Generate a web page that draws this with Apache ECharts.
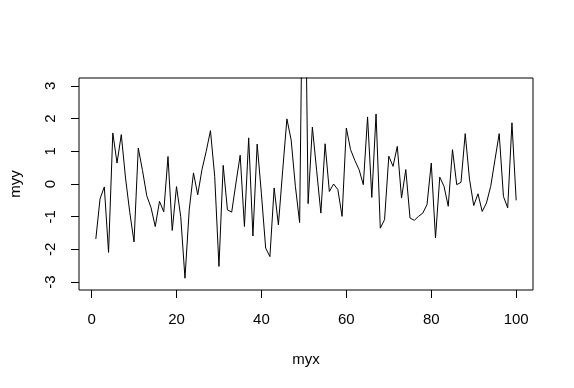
<!DOCTYPE html>
<html>
<head>
<meta charset="utf-8">
<script src="https://cdn.jsdelivr.net/npm/echarts@6/dist/echarts.min.js"></script>
<style>
html,body{margin:0;padding:0;background:#fff;}
#c{width:574px;height:388px;}
</style>
</head>
<body>
<div id="c"></div>
<script>
var myx = [1,2,3,4,5,6,7,8,9,10,11,12,13,14,15,16,17,18,19,20,21,22,23,24,25,26,27,28,29,30,31,32,33,34,35,36,37,38,39,40,41,42,43,44,45,46,47,48,49,50,51,52,53,54,55,56,57,58,59,60,61,62,63,64,65,66,67,68,69,70,71,72,73,74,75,76,77,78,79,80,81,82,83,84,85,86,87,88,89,90,91,92,93,94,95,96,97,98,99,100];
var myy = [-1.68,-0.45,-0.09,-2.09,1.56,0.64,1.51,0.18,-0.87,-1.77,
  1.1,0.41,-0.36,-0.72,-1.3,-0.53,-0.85,0.84,-1.42,-0.08,
  -1.0,-2.88,-0.79,0.34,-0.33,0.44,1.0,1.63,0.23,-2.52,
  0.57,-0.79,-0.86,0.03,0.88,-1.3,1.41,-1.59,1.22,-0.3,
  -1.96,-2.22,-0.12,-1.25,0.4,1.99,1.35,-0.07,-1.18,10,
  -0.6,1.74,0.42,-0.89,1.23,-0.23,0.0,-0.17,-0.99,1.71,
  1.05,0.72,0.44,-0.02,2.05,-0.41,2.14,-1.35,-1.09,0.85,
  0.54,1.15,-0.43,0.44,-1.04,-1.11,-0.99,-0.89,-0.63,0.64,
  -1.65,0.21,-0.07,-0.68,1.05,-0.02,0.05,1.54,0.15,-0.66,
  -0.3,-0.84,-0.58,-0.07,0.74,1.54,-0.38,-0.73,1.87,-0.5];
var xTicks = [0,20,40,60,80,100];
var yTicks = [-3,-2,-1,0,1,2,3];

var chart = echarts.init(document.getElementById('c'), null, {renderer:'canvas'});
var font = '"Liberation Sans", Arial, sans-serif';
chart.setOption({
  animation:false,
  backgroundColor:'#fff',
  grid:{left:78, right:41, top:78, bottom:98, show:true, borderColor:'#000', borderWidth:1, containLabel:false},
  xAxis:{
    type:'value', min:-2.96, max:103.96,
    name:'myx', nameLocation:'middle', nameGap:62,
    nameTextStyle:{color:'#000', fontSize:15, fontFamily:font},
    axisLine:{show:false, onZero:false},
    splitLine:{show:false},
    axisTick:{show:true, inside:false, length:8, lineStyle:{color:'#000'}, customValues:xTicks},
    axisLabel:{color:'#000', fontSize:15, fontFamily:font, margin:22, customValues:xTicks}
  },
  yAxis:{
    type:'value', min:-3.24, max:3.24,
    name:'myy', nameLocation:'middle', nameGap:56,
    nameTextStyle:{color:'#000', fontSize:15, fontFamily:font},
    axisLine:{show:false, onZero:false},
    splitLine:{show:false},
    axisTick:{show:true, inside:false, length:8, lineStyle:{color:'#000'}, customValues:yTicks},
    axisLabel:{color:'#000', fontSize:15, fontFamily:font, margin:21, rotate:90, customValues:yTicks}
  },
  series:[{
    type:'line',
    data: myx.map(function(x,i){return [x, myy[i]];}),
    showSymbol:false,
    clip:true,
    lineStyle:{color:'#000', width:1},
    itemStyle:{color:'#000'}
  }]
});
</script>
</body>
</html>
